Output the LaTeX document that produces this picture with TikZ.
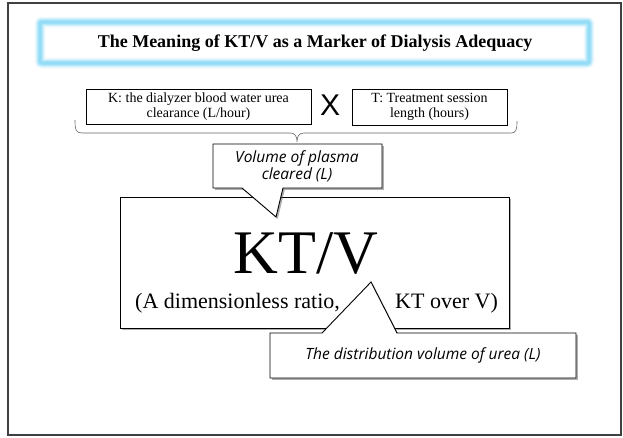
\documentclass[tikz,border=0pt]{standalone}
\usepackage{fontspec}
\setmainfont{Liberation Serif}
\newfontfamily\calfont{Open Sans}
\newfontfamily\xfont{Liberation Sans}
\usetikzlibrary{shadows}
\definecolor{glowc}{RGB}{140,218,245}
\begin{document}
\begin{tikzpicture}[x=1pt,y=-1pt,
  frame/.style={draw=black!75, line width=1.3pt},
  infobox/.style={draw=black, line width=0.9pt, fill=white},
  shadowed/.style={drop shadow={shadow xshift=1.8pt, shadow yshift=-1.8pt, opacity=0.45, fill=black!70}},
  serifsmall/.style={font=\fontsize{14}{15.5}\selectfont, align=center, inner sep=0pt},
  caltext/.style={font=\calfont\itshape\fontsize{15.5}{17}\selectfont, align=center, inner sep=0pt},
  bracestyle/.style={draw=black!60, line width=0.6pt}]
\useasboundingbox (0,0) rectangle (623,437);
\draw[frame] (8,3) rectangle (621,435);
% glowing title box
\foreach \w/\o in {11/0.1,9/0.18,7/0.3,5/0.5,3/0.7}{
  \draw[glowc, line width=\w pt, opacity=\o, rounded corners=2pt] (40,22) rectangle (589,63);}
\node[font=\bfseries\fontsize{18}{20}\selectfont] (title) at (315,43) {The Meaning of KT/V as a Marker of Dialysis Adequacy};
% K and T boxes
\node[infobox, serifsmall, minimum width=225pt, minimum height=35pt] (K) at (198.5,106.5) {K: the dialyzer blood water urea\\clearance (L/hour)};
\node[font=\xfont\fontsize{30}{30}\selectfont, inner sep=0pt] (X) at (330,105.5) {X};
\node[infobox, serifsmall, minimum width=155pt, minimum height=36pt] (T) at (429.5,107) {T: Treatment session\\length (hours)};
% brace
\draw[bracestyle] (75,120) .. controls (75,130) and (76,133) .. (82,133) -- (290,133)
  .. controls (295,133) and (297,136) .. (297,142)
  .. controls (297,136) and (299,133) .. (304,133) -- (511,133)
  .. controls (516,133) and (517,130) .. (517,121);
% big box
\node[infobox, shadowed, minimum width=389pt, minimum height=131pt, inner sep=0pt] (big) at (314.5,262.5) {};
\node[font=\fontsize{62}{62}\selectfont, anchor=base, inner sep=0pt] (ktv) at (306,273) {KT/V};
\node[font=\fontsize{22}{24}\selectfont, anchor=base west, inner sep=0pt] (ratio) at (135,308) {(A dimensionless ratio,};
\node[font=\fontsize{22}{24}\selectfont, anchor=base west, inner sep=0pt] (over) at (395,308) {KT over V)};
% callout 1
\path[infobox, shadowed] (213,144) -- (382,144) -- (382,188) -- (283,188) -- (276,217) -- (242,188) -- (213,188) -- cycle;
\node[caltext] (vol) at (297,166) {Volume of plasma\\cleared (L)};
% callout 2
\path[infobox, shadowed] (270,333) -- (322,333) -- (371,282) -- (397,333) -- (576,333) -- (576,378) -- (270,378) -- cycle;
\node[caltext] (dist) at (423,355.5) {The distribution volume of urea (L)};
\end{tikzpicture}
\end{document}
